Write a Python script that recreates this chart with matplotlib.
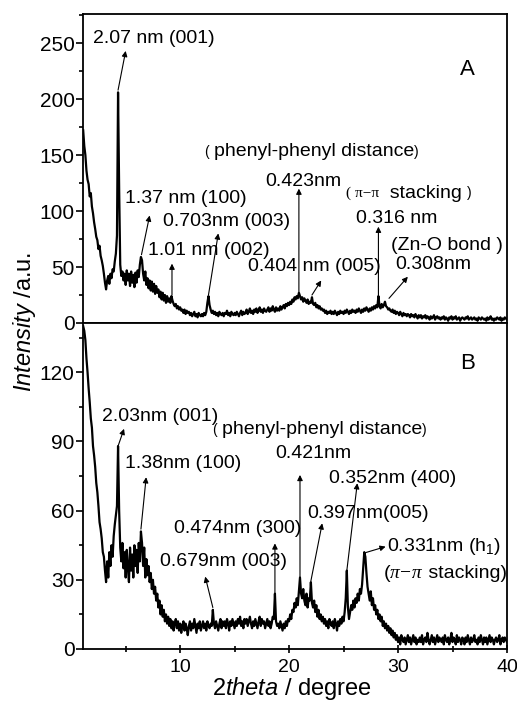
import matplotlib
matplotlib.use('Agg')
import matplotlib.pyplot as plt
import numpy as np
from matplotlib.ticker import MultipleLocator

plt.rcParams['font.family'] = ['Liberation Sans', 'DejaVu Sans']
plt.rcParams['mathtext.fontset'] = 'custom'
plt.rcParams['mathtext.rm'] = 'Liberation Sans'
plt.rcParams['mathtext.it'] = 'Liberation Sans:italic'
plt.rcParams['mathtext.bf'] = 'Liberation Sans:bold'

# 2theta grid, 1.1 ... 40.0 degree, step 0.1
two_theta = np.arange(11, 401) / 10

# XRD intensity, sample A (one row per degree)
intensity_a = [
    172, 158, 150, 136, 128, 124, 113, 116, 104,
    98, 90, 84, 77, 74, 66, 69, 60, 56, 51,
    44, 36, 30, 38, 42, 35, 44, 40, 48, 46,
    55, 62, 78, 206, 120, 52, 42, 46, 38, 44,
    34, 47, 38, 44, 33, 46, 36, 43, 32, 45,
    36, 47, 41, 52, 59, 56, 44, 38, 46, 34,
    40, 31, 38, 29, 37, 28, 35, 26, 33, 27,
    30, 23, 28, 21, 27, 20, 25, 18, 24, 19,
    22, 18, 24, 20, 17, 15, 17, 13, 15, 12,
    14, 11, 12, 9, 12, 8, 11, 9, 10, 7,
    9, 6, 8, 10, 6, 8, 5, 9, 7, 6,
    8, 6, 9, 7, 10, 18, 24, 16, 12, 9,
    11, 8, 10, 7, 9, 6, 10, 8, 7, 9,
    6, 9, 8, 11, 7, 9, 6, 10, 8, 7,
    9, 7, 10, 8, 6, 9, 11, 7, 10, 8,
    9, 12, 8, 10, 13, 9, 11, 8, 12, 10,
    13, 9, 11, 14, 10, 12, 9, 13, 11, 10,
    12, 14, 10, 13, 11, 15, 12, 10, 14, 11,
    13, 11, 15, 12, 14, 16, 13, 17, 15, 18,
    16, 19, 17, 21, 19, 23, 21, 24, 22, 27,
    24, 21, 23, 19, 22, 20, 18, 21, 17, 19,
    18, 23, 17, 16, 18, 14, 16, 13, 15, 12,
    13, 11, 12, 9, 11, 8, 10, 9, 11, 8,
    10, 8, 11, 9, 7, 10, 8, 11, 9, 10,
    8, 11, 9, 12, 10, 8, 11, 9, 12, 10,
    11, 9, 12, 10, 13, 11, 9, 12, 10, 13,
    11, 14, 12, 10, 13, 11, 14, 12, 15, 13,
    16, 14, 24, 15, 13, 17, 14, 16, 19, 15,
    14, 12, 13, 11, 10, 12, 9, 11, 8, 10,
    9, 7, 10, 8, 6, 9, 7, 8, 6, 8,
    7, 5, 8, 6, 7, 5, 8, 6, 4, 7,
    5, 7, 4, 6, 5, 7, 4, 6, 5, 3,
    6, 4, 5, 7, 3, 5, 6, 4, 5, 3,
    5, 4, 6, 3, 5, 4, 2, 5, 4, 6,
    3, 5, 4, 6, 3, 4, 5, 2, 4, 5,
    4, 3, 5, 4, 6, 3, 4, 5, 3, 4,
    5, 3, 4, 2, 5, 4, 3, 5, 4, 3,
    4, 2, 5, 3, 4, 6, 3, 4, 2, 4,
    3, 5, 4, 3, 5, 2, 4, 3, 5, 4,
    3,
]

# XRD intensity, sample B
intensity_b = [
    140, 138, 134, 126, 120, 113, 107, 100, 96,
    88, 84, 79, 72, 68, 62, 55, 52, 48, 42,
    40, 34, 29, 38, 31, 42, 36, 45, 40, 49,
    54, 58, 62, 88, 60, 44, 38, 46, 35, 42,
    31, 43, 35, 29, 44, 34, 41, 31, 45, 36,
    43, 33, 46, 38, 51, 46, 36, 44, 31, 39,
    32, 36, 29, 33, 26, 30, 24, 27, 21, 24,
    18, 21, 15, 19, 14, 17, 12, 15, 11, 14,
    10, 13, 9, 12, 8, 11, 13, 9, 12, 8,
    11, 7, 10, 12, 8, 11, 9, 6, 10, 12,
    8, 11, 9, 13, 10, 7, 11, 9, 12, 8,
    10, 12, 9, 11, 8, 12, 10, 9, 11, 10,
    17, 11, 9, 12, 10, 8, 11, 13, 9, 12,
    10, 12, 9, 13, 11, 8, 12, 10, 13, 11,
    9, 12, 10, 13, 11, 14, 10, 12, 9, 13,
    11, 13, 10, 12, 14, 11, 9, 12, 10, 13,
    11, 9, 12, 14, 10, 13, 11, 12, 9, 11,
    13, 10, 12, 9, 11, 14, 13, 24, 12, 10,
    11, 9, 12, 10, 8, 11, 9, 12, 10, 13,
    12, 15, 13, 17, 16, 20, 18, 22, 19, 25,
    31, 24, 22, 26, 21, 19, 24, 18, 22, 21,
    29, 20, 18, 21, 16, 19, 14, 17, 13, 15,
    12, 14, 11, 13, 10, 12, 9, 13, 11, 10,
    12, 9, 13, 11, 8, 12, 10, 13, 11, 14,
    12, 16, 22, 34, 18, 13, 16, 19, 17, 21,
    18, 22, 20, 24, 21, 26, 24, 28, 35, 42,
    40, 33, 27, 24, 21, 25, 19, 22, 17, 19,
    15, 17, 13, 15, 12, 14, 10, 12, 9, 11,
    8, 10, 7, 9, 6, 8, 5, 7, 4, 6,
    3, 5, 2, 6, 4, 3, 5, 2, 4, 6,
    3, 5, 2, 4, 6, 3, 5, 2, 4, 3,
    5, 3, 6, 2, 4, 5, 3, 7, 4, 2,
    4, 6, 3, 5, 2, 4, 6, 3, 5, 4,
    3, 5, 2, 6, 4, 3, 5, 2, 4, 7,
    3, 5, 4, 2, 6, 3, 5, 4, 2, 5,
    4, 2, 5, 3, 6, 4, 2, 5, 3, 4,
    6, 3, 4, 2, 5, 3, 6, 4, 2, 5,
    3, 5, 2, 4, 6, 3, 5, 4, 2, 4,
    5, 3, 4, 6, 2, 4, 5, 3, 5, 4,
    3,
]

FS = 14
sans = dict(family='Liberation Sans', size=FS)
serif_small = dict(family='Liberation Serif', size=11)
serif_it = dict(family='Liberation Serif', style='italic', size=FS)


def arrow(ax, tail, head):
    ax.annotate('', xy=head, xytext=tail,
                arrowprops=dict(arrowstyle='-|>', color='k', lw=0.8,
                                mutation_scale=8, shrinkA=0, shrinkB=0))


def chain_text(ax, x, y, parts):
    # text made of pieces with different fonts, laid side by side
    prev = None
    for s, kw in parts:
        if prev is None:
            prev = ax.text(x, y, s, ha='left', va='center', **kw)
        else:
            prev = ax.annotate(s, xy=(1, 0.5), xycoords=prev,
                               ha='left', va='center', **kw)


fig = plt.figure(figsize=(5.17, 7.02), dpi=100)
ax_a = fig.add_axes([0.1605, 0.5399, 0.8201, 0.4402])
ax_b = fig.add_axes([0.1605, 0.0755, 0.8201, 0.4644])

ax_a.plot(two_theta, intensity_a, color='k', lw=1.6)
ax_b.plot(two_theta, intensity_b, color='k', lw=1.6)

for ax in (ax_a, ax_b):
    ax.set_xlim(1.08, 40)
    ax.xaxis.set_major_locator(MultipleLocator(10))
    ax.xaxis.set_minor_locator(MultipleLocator(5))
    for sp in ax.spines.values():
        sp.set_linewidth(1.3)
    ax.tick_params(axis='y', which='both', direction='out', width=1.2,
                   labelsize=15, pad=1)
    ax.tick_params(axis='y', which='major', length=5)
    ax.tick_params(axis='y', which='minor', length=3)
    ax.tick_params(axis='x', which='both', direction='inout', width=1.2,
                   labelsize=14, pad=4)
    ax.tick_params(axis='x', which='major', length=6)
    ax.tick_params(axis='x', which='minor', length=5)

ax_a.set_ylim(0, 276)
ax_a.yaxis.set_major_locator(MultipleLocator(50))
ax_a.yaxis.set_minor_locator(MultipleLocator(25))
ax_a.tick_params(axis='x', which='both', length=0, labelbottom=False)

ax_b.set_ylim(0, 141.4)
ax_b.yaxis.set_major_locator(MultipleLocator(30))
ax_b.yaxis.set_minor_locator(MultipleLocator(15))

# --- panel A labels ---
ax_a.text(2.0, 254.5, '2.07 nm (001)', ha='left', va='center', **sans)
arrow(ax_a, (4.3, 208), (5.0, 243))
ax_a.text(4.94, 111.6, '1.37 nm (100)', ha='left', va='center', **sans)
arrow(ax_a, (6.45, 61), (7.2, 96))
ax_a.text(8.44, 91, '0.703nm (003)', ha='left', va='center', **sans)
arrow(ax_a, (12.6, 25), (13.5, 80))
ax_a.text(7.06, 65, '1.01 nm (002)', ha='left', va='center', **sans)
arrow(ax_a, (9.25, 25), (9.25, 53))
ax_a.text(16.26, 50.3, '0.404 nm (005)', ha='left', va='center', **sans)
arrow(ax_a, (22.1, 25), (22.95, 38))
chain_text(ax_a, 12.3, 153, [('( ', dict(size=10)),
                             ('phenyl-phenyl distance', sans),
                             (')', dict(size=10))])
ax_a.text(17.82, 126, '0.423nm', ha='left', va='center', **sans)
arrow(ax_a, (20.9, 28), (20.9, 120))
chain_text(ax_a, 25.18, 115.8, [('( π−π', serif_small),
                                ('  stacking ', sans),
                                (')', dict(size=10))])
ax_a.text(26.1, 93.5, '0.316 nm', ha='left', va='center', **sans)
arrow(ax_a, (28.2, 24), (28.2, 86))
ax_a.text(29.32, 69.6, '(Zn-O bond )', ha='left', va='center', **sans)
ax_a.text(29.78, 51.8, '0.308nm', ha='left', va='center', **sans)
arrow(ax_a, (29.17, 22), (30.9, 41.3))
ax_a.text(36.38, 226, 'A', ha='center', va='center', fontsize=16)

# --- panel B labels ---
ax_b.text(2.8, 101, '2.03nm (001)', ha='left', va='center', **sans)
arrow(ax_b, (4.3, 88), (4.85, 95.5))
ax_b.text(4.94, 80.5, '1.38nm (100)', ha='left', va='center', **sans)
arrow(ax_b, (6.4, 52), (6.88, 74.5))
ax_b.text(9.39, 52.3, '0.474nm (300)', ha='left', va='center', **sans)
arrow(ax_b, (18.7, 24), (18.7, 45.8))
ax_b.text(8.16, 37.9, '0.679nm (003)', ha='left', va='center', **sans)
arrow(ax_b, (13.0, 18), (12.3, 31.4))
chain_text(ax_b, 13.04, 95, [('( ', dict(size=10)),
                             ('phenyl-phenyl distance', sans),
                             (')', dict(size=10))])
ax_b.text(18.74, 84.9, '0.421nm', ha='left', va='center', **sans)
arrow(ax_b, (21.0, 31), (21.0, 75.5))
ax_b.text(23.62, 74, '0.352nm (400)', ha='left', va='center', **sans)
arrow(ax_b, (25.3, 34), (26.26, 71.9))
ax_b.text(21.66, 58.8, '0.397nm(005)', ha='left', va='center', **sans)
arrow(ax_b, (22.0, 29.5), (23.04, 54.5))
ax_b.text(29.02, 44.4, '0.331nm (h$_1$)', ha='left', va='center', **sans)
arrow(ax_b, (27.02, 41.8), (28.86, 44.4))
chain_text(ax_b, 28.65, 32.8, [('(', sans), ('π−π', serif_it),
                               (' stacking)', sans)])
ax_b.text(36.38, 123.9, 'B', ha='center', va='center', fontsize=16)

# axis titles
fig.text(0.048, 0.541, r'$\mathit{Intensity}$ /a.u.', rotation=90,
         ha='center', va='center', fontsize=17)
fig.text(0.564, 0.019, r'$\mathit{2theta}$ / degree', ha='center',
         va='center', fontsize=17)

fig.savefig('out.png', dpi=100)
